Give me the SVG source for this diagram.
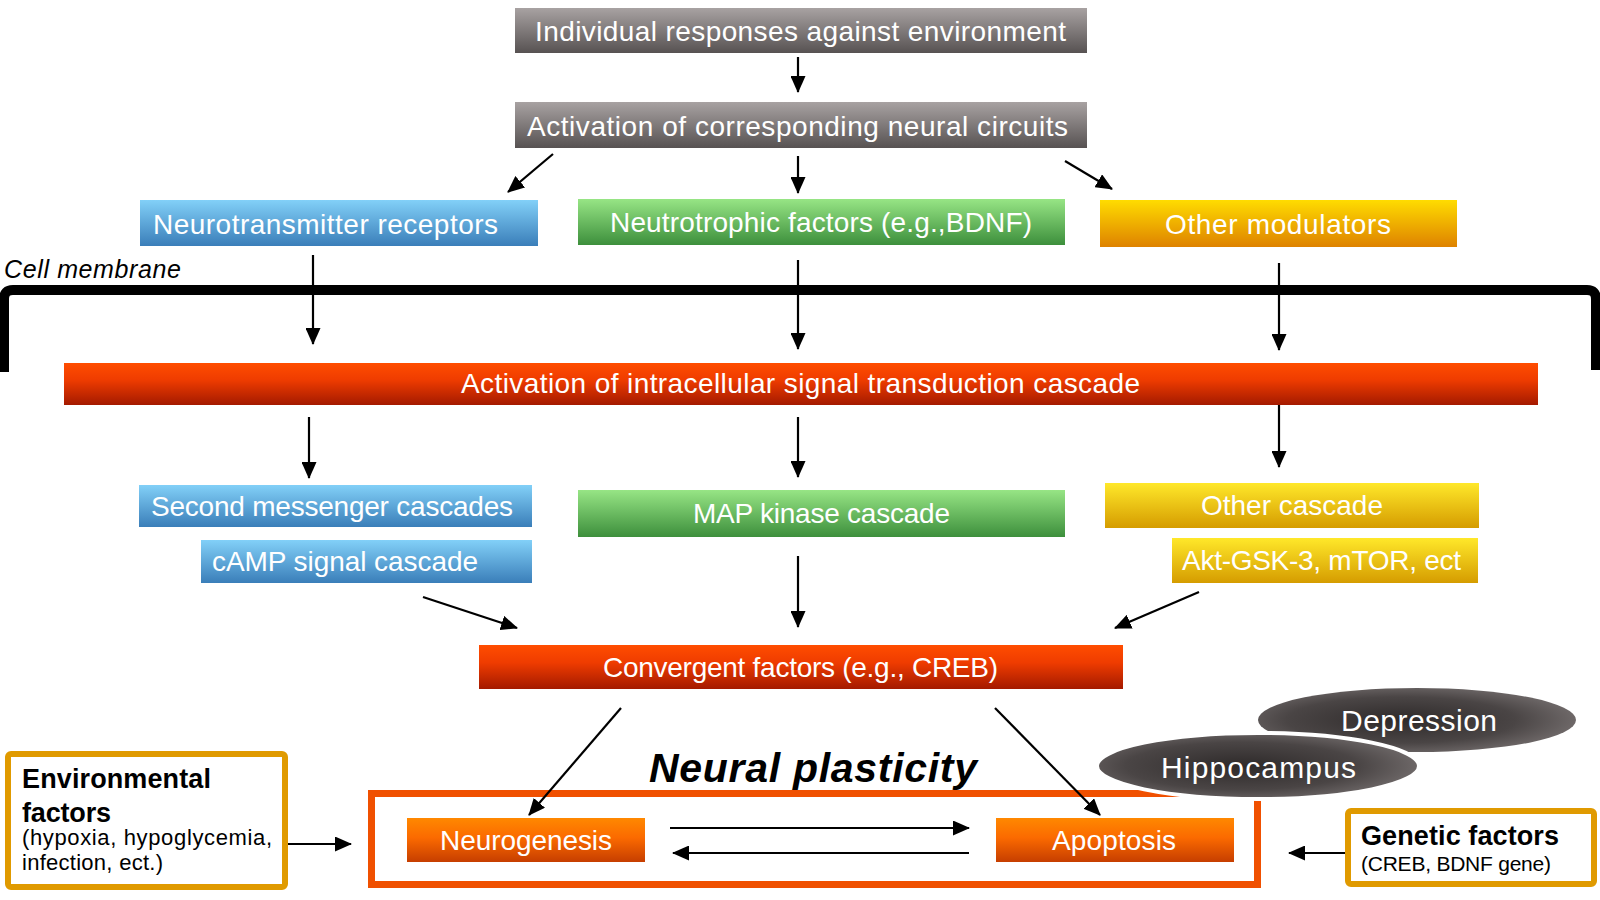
<svg xmlns="http://www.w3.org/2000/svg" width="1600" height="900" viewBox="0 0 1600 900">
<style>
  .lbl { font-family: "Liberation Sans", Arial, sans-serif; font-size: 28px; fill: #ffffff; }
  .blk { font-family: "Liberation Sans", Arial, sans-serif; fill: #000000; }
  .b27 { font-size: 27px; font-weight: bold; }
  .r22 { font-size: 22px; }
  .r21 { font-size: 21px; }
  .conn line { stroke: #000000; stroke-width: 2.2; marker-end: url(#ah); }
  .ell { font-family: "Liberation Sans", Arial, sans-serif; font-size: 30px; fill: #ffffff; }
</style>
<defs>
  <marker id="ah" markerUnits="userSpaceOnUse" markerWidth="17" markerHeight="15" refX="16" refY="7.5" orient="auto">
    <path d="M0,0 L17,7.5 L0,15 z" fill="#000000"/>
  </marker>
  <linearGradient id="gGray" x1="0" y1="0" x2="0" y2="1">
    <stop offset="0" stop-color="#a8a2a2"/>
    <stop offset="1" stop-color="#575252"/>
  </linearGradient>
  <linearGradient id="gBlue" x1="0" y1="0" x2="0" y2="1">
    <stop offset="0" stop-color="#82d0f8"/>
    <stop offset="1" stop-color="#3a7eb9"/>
  </linearGradient>
  <linearGradient id="gGreen" x1="0" y1="0" x2="0" y2="1">
    <stop offset="0" stop-color="#97e585"/>
    <stop offset="1" stop-color="#3d8f3c"/>
  </linearGradient>
  <linearGradient id="gOrange" x1="0" y1="0" x2="0" y2="1">
    <stop offset="0" stop-color="#ffdc00"/>
    <stop offset="1" stop-color="#de8200"/>
  </linearGradient>
  <linearGradient id="gYellow" x1="0" y1="0" x2="0" y2="1">
    <stop offset="0" stop-color="#ffe82a"/>
    <stop offset="1" stop-color="#d59c00"/>
  </linearGradient>
  <linearGradient id="gRed" x1="0" y1="0" x2="0" y2="1">
    <stop offset="0" stop-color="#ff4d00"/>
    <stop offset="0.4" stop-color="#ef3c00"/>
    <stop offset="1" stop-color="#a41a00"/>
  </linearGradient>
  <linearGradient id="gOr2" x1="0" y1="0" x2="0" y2="1">
    <stop offset="0" stop-color="#ff8800"/>
    <stop offset="0.45" stop-color="#fb6a00"/>
    <stop offset="1" stop-color="#c63e00"/>
  </linearGradient>
  <radialGradient id="gEll" cx="0.45" cy="0.5" r="0.6">
    <stop offset="0" stop-color="#2e2a2a"/>
    <stop offset="0.6" stop-color="#4a4545"/>
    <stop offset="1" stop-color="#777171"/>
  </radialGradient>
</defs>

<rect width="1600" height="900" fill="#ffffff"/>

<g id="membrane">
  <path d="M4,372 L4,299 Q4,290 13,290 L1587,290 Q1596,290 1596,299 L1596,370" fill="none" stroke="#000000" stroke-width="10"/>
  <text class="blk" x="4" y="278" font-size="25" font-style="italic" textLength="177">Cell membrane</text>
</g>

<g id="n-individual">
  <rect x="515" y="8" width="572" height="45" fill="url(#gGray)"/>
  <text class="lbl" x="535" y="41" textLength="531">Individual responses against environment</text>
</g>
<g id="n-activation-circuits">
  <rect x="515" y="102" width="572" height="46" fill="url(#gGray)"/>
  <text class="lbl" x="527" y="136" textLength="541">Activation of corresponding neural circuits</text>
</g>
<g id="n-neurotransmitter">
  <rect x="140" y="200" width="398" height="46" fill="url(#gBlue)"/>
  <text class="lbl" x="153" y="234" textLength="345">Neurotransmitter receptors</text>
</g>
<g id="n-neutrotrophic">
  <rect x="578" y="199" width="487" height="46" fill="url(#gGreen)"/>
  <text class="lbl" x="610" y="232" textLength="422">Neutrotrophic factors (e.g.,BDNF)</text>
</g>
<g id="n-other-modulators">
  <rect x="1100" y="200" width="357" height="47" fill="url(#gOrange)"/>
  <text class="lbl" x="1165" y="234" textLength="226">Other modulators</text>
</g>
<g id="n-intracellular">
  <rect x="64" y="363" width="1474" height="42" fill="url(#gRed)"/>
  <text class="lbl" x="461" y="393" textLength="679">Activation of intracellular signal transduction cascade</text>
</g>
<g id="n-second-messenger">
  <rect x="139" y="485" width="393" height="42" fill="url(#gBlue)"/>
  <text class="lbl" x="151" y="516" textLength="362">Second messenger cascades</text>
</g>
<g id="n-camp">
  <rect x="201" y="540" width="331" height="43" fill="url(#gBlue)"/>
  <text class="lbl" x="212" y="571" textLength="266">cAMP signal cascade</text>
</g>
<g id="n-map">
  <rect x="578" y="490" width="487" height="47" fill="url(#gGreen)"/>
  <text class="lbl" x="693" y="523" textLength="257">MAP kinase cascade</text>
</g>
<g id="n-other-cascade">
  <rect x="1105" y="483" width="374" height="45" fill="url(#gYellow)"/>
  <text class="lbl" x="1201" y="515" textLength="182">Other cascade</text>
</g>
<g id="n-akt">
  <rect x="1172" y="538" width="306" height="45" fill="url(#gYellow)"/>
  <text class="lbl" x="1182" y="570" textLength="279">Akt-GSK-3, mTOR, ect</text>
</g>
<g id="n-convergent">
  <rect x="479" y="645" width="644" height="44" fill="url(#gRed)"/>
  <text class="lbl" x="603" y="677" textLength="395">Convergent factors (e.g., CREB)</text>
</g>

<g id="n-plasticity">
  <rect x="371.5" y="793.5" width="886" height="91" fill="none" stroke="#f05000" stroke-width="7"/>
</g>
<g id="n-neurogenesis">
  <rect x="407" y="818" width="238" height="44" fill="url(#gOr2)"/>
  <text class="lbl" x="440" y="850" textLength="172">Neurogenesis</text>
</g>
<g id="n-apoptosis">
  <rect x="996" y="818" width="238" height="44" fill="url(#gOr2)"/>
  <text class="lbl" x="1052" y="850" textLength="124">Apoptosis</text>
</g>

<g id="n-depression">
  <ellipse cx="1417" cy="720" rx="159" ry="32" fill="url(#gEll)"/>
  <text class="ell" x="1341" y="731" textLength="156">Depression</text>
</g>
<g id="n-hippocampus">
  <ellipse cx="1258" cy="766" rx="161" ry="33" fill="url(#gEll)" stroke="#ffffff" stroke-width="4"/>
  <text class="ell" x="1161" y="778" textLength="195">Hippocampus</text>
</g>

<g id="t-neural-plasticity">
  <text class="blk" x="649" y="782" font-size="41" font-weight="bold" font-style="italic" textLength="328">Neural plasticity</text>
</g>

<g id="n-environmental">
  <rect x="8" y="754" width="277" height="133" rx="3" fill="#ffffff" stroke="#e09a00" stroke-width="6"/>
  <text class="blk b27" x="22" y="788" textLength="189">Environmental</text>
  <text class="blk b27" x="22" y="822" textLength="89">factors</text>
  <text class="blk r22" x="22" y="845" textLength="250">(hypoxia, hypoglycemia,</text>
  <text class="blk r22" x="22" y="870" textLength="141">infection, ect.)</text>
</g>
<g id="n-genetic">
  <rect x="1348" y="811" width="246" height="73" rx="3" fill="#ffffff" stroke="#e09a00" stroke-width="6"/>
  <text class="blk b27" x="1361" y="845" textLength="198">Genetic factors</text>
  <text class="blk r21" x="1361" y="871" textLength="190">(CREB, BDNF gene)</text>
</g>

<g id="connectors" class="conn">
  <line x1="798" y1="57" x2="798" y2="92"/>
  <line x1="553" y1="154" x2="508" y2="192"/>
  <line x1="798" y1="156" x2="798" y2="193"/>
  <line x1="1065" y1="161" x2="1112" y2="189"/>
  <line x1="313" y1="255" x2="313" y2="344"/>
  <line x1="798" y1="260" x2="798" y2="349"/>
  <line x1="1279" y1="263" x2="1279" y2="350"/>
  <line x1="309" y1="417" x2="309" y2="478"/>
  <line x1="798" y1="417" x2="798" y2="477"/>
  <line x1="1279" y1="405" x2="1279" y2="467"/>
  <line x1="423" y1="597" x2="517" y2="628"/>
  <line x1="798" y1="556" x2="798" y2="627"/>
  <line x1="1199" y1="592" x2="1115" y2="628"/>
  <line x1="621" y1="708" x2="529" y2="815"/>
  <line x1="995" y1="708" x2="1100" y2="815"/>
  <line x1="670" y1="828" x2="969" y2="828"/>
  <line x1="969" y1="853" x2="673" y2="853"/>
  <line x1="288" y1="844" x2="351" y2="844"/>
  <line x1="1345" y1="853" x2="1289" y2="853"/>
</g>
</svg>
